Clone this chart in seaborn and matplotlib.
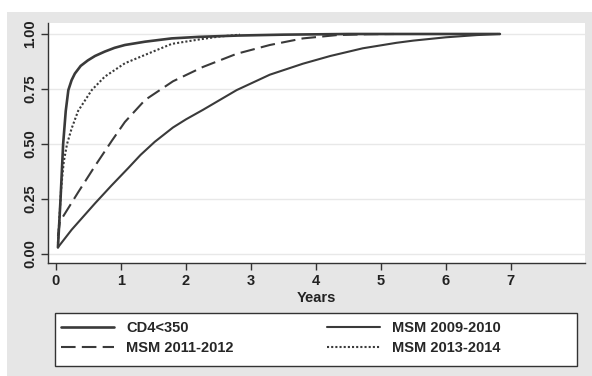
import numpy as np
import pandas as pd
import matplotlib
matplotlib.use("Agg")
import matplotlib.pyplot as plt
import seaborn as sns
from matplotlib.patches import Rectangle
from matplotlib.lines import Line2D

# ------------------------------------------------------------------
# data (cumulative proportion vs years)
# ------------------------------------------------------------------
cd4_years = [0.03, 0.07, 0.11, 0.15, 0.19, 0.24, 0.29, 0.38, 0.49, 0.6, 0.75, 0.9, 1.06, 1.37, 1.78,
             2.2, 2.8, 3.5, 4.5, 5.5, 6.83]
cd4_prop = [0.03, 0.25, 0.50, 0.65, 0.745, 0.79, 0.82, 0.855, 0.88, 0.90, 0.92, 0.937, 0.95, 0.965, 0.98,
            0.987, 0.993, 0.997, 1.0, 1.0, 1.0]

msm0910_years = [0.03, 0.24, 0.6, 0.85, 1.11, 1.3, 1.52, 1.8, 2.0, 2.26, 2.78, 3.29, 3.8, 4.22, 4.72,
                 5.24, 5.5, 6.0, 6.47, 6.8]
msm0910_prop = [0.03, 0.11, 0.23, 0.31, 0.39, 0.45, 0.51, 0.575, 0.612, 0.655, 0.745, 0.815, 0.865, 0.90,
                0.935, 0.96, 0.97, 0.985, 0.995, 1.0]

msm1112_years = [0.03, 0.06, 0.34, 0.6, 0.86, 1.06, 1.37, 1.8, 2.26, 2.78, 3.29, 3.8, 4.32, 4.8, 5.2]
msm1112_prop = [0.08, 0.147, 0.28, 0.40, 0.515, 0.60, 0.70, 0.785, 0.85, 0.91, 0.95, 0.98, 0.995, 0.999, 1.0]

msm1314_years = [0.03, 0.05, 0.08, 0.12, 0.17, 0.24, 0.34, 0.55, 0.75, 1.06, 1.37, 1.78, 2.2, 2.5, 2.83]
msm1314_prop = [0.05, 0.15, 0.30, 0.42, 0.50, 0.57, 0.65, 0.745, 0.806, 0.867, 0.905, 0.955, 0.975, 0.988, 0.997]

labels = ["CD4<350", "MSM 2009-2010", "MSM 2011-2012", "MSM 2013-2014"]
x_ticks = [0, 1, 2, 3, 4, 5, 6, 7]
y_ticks = [0.0, 0.25, 0.5, 0.75, 1.0]
y_ticklabels = ["0.00", "0.25", "0.50", "0.75", "1.00"]

frames = []
for lab, xs, ys in zip(labels,
                       [cd4_years, msm0910_years, msm1112_years, msm1314_years],
                       [cd4_prop, msm0910_prop, msm1112_prop, msm1314_prop]):
    frames.append(pd.DataFrame({"years": xs, "prop": ys, "group": lab}))
df = pd.concat(frames, ignore_index=True)

# ------------------------------------------------------------------
# plot
# ------------------------------------------------------------------
sns.set_theme(style="white")
plt.rcParams["font.family"] = ["Liberation Sans", "DejaVu Sans"]
plt.rcParams["font.weight"] = "bold"
FS = 10.5

W, H = 592, 376
fig = plt.figure(figsize=(W / 100, H / 100), dpi=100, facecolor="white")
# grey graph region (Stata style) + legend box
fig.patches.append(Rectangle((7 / W, 0), 1 - 7 / W, (H - 12) / H, transform=fig.transFigure,
                             facecolor="#e6e6e6", edgecolor="none", zorder=-2))
fig.patches.append(Rectangle((55 / W, (H - 366) / H), (577 - 55) / W, (366 - 313) / H,
                             transform=fig.transFigure, facecolor="white", edgecolor="#333333",
                             linewidth=1.0, zorder=-1))

ax = fig.add_axes([48 / W, (H - 263) / H, (585 - 48) / W, (263 - 23) / H])
ax.set_facecolor("white")

line_color = "#3a3a3a"
styles = {
    "CD4<350": dict(ls="-", lw=1.9),
    "MSM 2009-2010": dict(ls="-", lw=1.5),
    "MSM 2011-2012": dict(ls=(0, (7, 3)), lw=1.5),
    "MSM 2013-2014": dict(ls=(0, (1, 1)), lw=1.5),
}
for lab in labels:
    sub = df[df["group"] == lab]
    sns.lineplot(data=sub, x="years", y="prop", ax=ax, color=line_color,
                 linestyle=styles[lab]["ls"], linewidth=styles[lab]["lw"], label=lab, legend=False)

ax.set_xlim(-0.123, 8.14)
ax.set_ylim(-0.041, 1.05)
ax.set_xticks(x_ticks)
ax.set_yticks(y_ticks)
ax.set_yticklabels(y_ticklabels, rotation=90, va="center")
ax.tick_params(axis="both", direction="out", length=5, width=1, color="#333333",
               labelsize=FS, labelcolor="#222222", pad=3)
ax.tick_params(left=True, bottom=True)
ax.grid(axis="y", color="#e8e8e8", linewidth=1)
ax.grid(axis="x", visible=False)
for s in ["top", "right"]:
    ax.spines[s].set_visible(False)
for s in ["left", "bottom"]:
    ax.spines[s].set_color("#333333")
    ax.spines[s].set_linewidth(1.0)
ax.set_xlabel("Years", fontsize=FS, fontweight="bold", color="#222222", labelpad=2)
ax.set_ylabel("")

handles = [Line2D([0], [0], color=line_color, linestyle=styles[l]["ls"], linewidth=styles[l]["lw"])
           for l in labels]
order = [0, 2, 1, 3]
leg = fig.legend([handles[i] for i in order], [labels[i] for i in order], ncol=2,
                 loc="upper left", bbox_to_anchor=(61 / W, (H - 321) / H),
                 fontsize=FS, frameon=False, handlelength=3.63, handletextpad=0.82,
                 borderaxespad=0, borderpad=0, labelspacing=0.44, columnspacing=6.4)

fig.savefig("out.png", dpi=100, facecolor=fig.get_facecolor())
